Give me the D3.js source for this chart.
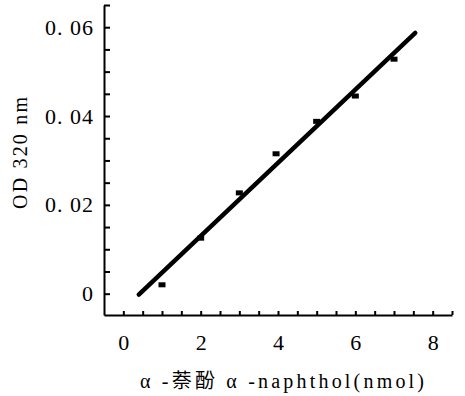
<!DOCTYPE html>
<html>
<head>
<meta charset="utf-8">
<style>
  body { margin: 0; background: #fff; }
  svg { display: block; }
  .axis path, .axis line { stroke: #000; stroke-width: 2; }
  .axis text { font-family: "Liberation Serif", "Noto Sans CJK SC", serif; font-size: 22px; fill: #000; }
  .y.axis text { letter-spacing: 1px; }
  .label { font-family: "Liberation Serif", "Noto Sans CJK SC", serif; fill: #000; }
</style>
</head>
<body>
<svg width="465" height="396"></svg>
<script src="https://cdnjs.cloudflare.com/ajax/libs/d3/7.8.5/d3.min.js"></script>
<script>
// measured points: alpha-naphthol amount (nmol) vs OD 320 nm
const amount = [1, 2, 3, 3.95, 5, 6, 7];
const od = [0.002, 0.0125, 0.0227, 0.0315, 0.0388, 0.0445, 0.0528];
// fitted line ends
const fitX = [0.4, 7.55];
const fitY = [-0.0002, 0.0587];

const xMajor = [0, 2, 4, 6, 8];
const yMajor = [0, 0.02, 0.04, 0.06];
const xTickVals = d3.range(0, 8.51, 0.5);
const yTickVals = d3.range(0, 0.0651, 0.005);

const svg = d3.select("svg");

const x = d3.scaleLinear().domain([-0.5, 8.5]).range([104, 452]);
const y = d3.scaleLinear().domain([-0.0048, 0.065]).range([315, 5]);

const isMajor = (list, v) => list.some(m => Math.abs(m - v) < 1e-9);

const xAxis = d3.axisBottom(x)
  .tickValues(xTickVals)
  .tickSizeInner(-4)
  .tickSizeOuter(0)
  .tickPadding(19)
  .tickFormat(d => isMajor(xMajor, d) ? d3.format("d")(d) : "");

const yAxis = d3.axisLeft(y)
  .tickValues(yTickVals)
  .tickSizeInner(-6)
  .tickSizeOuter(0)
  .tickPadding(10)
  .tickFormat(d => isMajor(yMajor, d) ? (d === 0 ? "0" : d3.format(".2f")(d).replace(".", ". ")) : "");

svg.append("g")
  .attr("class", "axis x")
  .attr("transform", "translate(0,315)")
  .call(xAxis);

svg.append("g")
  .attr("class", "axis y")
  .attr("transform", "translate(104,0)")
  .call(yAxis);

// fitted line
svg.append("path")
  .datum(d3.zip(fitX, fitY))
  .attr("d", d3.line().x(d => x(d[0])).y(d => y(d[1])))
  .attr("fill", "none")
  .attr("stroke", "#000")
  .attr("stroke-width", 4.5)
  .attr("stroke-linecap", "round");

// data markers
svg.append("g")
  .selectAll("rect")
  .data(d3.zip(amount, od))
  .join("rect")
  .attr("x", d => x(d[0]) - 3.5)
  .attr("y", d => y(d[1]) - 2.5)
  .attr("width", 7)
  .attr("height", 5)
  .attr("fill", "#000");

svg.append("text")
  .attr("class", "label")
  .attr("transform", "translate(27,153) rotate(-90)")
  .attr("text-anchor", "middle")
  .attr("font-size", 20)
  .attr("textLength", 112)
  .attr("lengthAdjust", "spacing")
  .text("OD 320 nm");

svg.append("text")
  .attr("class", "label")
  .attr("x", 282)
  .attr("y", 388)
  .attr("text-anchor", "middle")
  .attr("font-size", 20)
  .attr("textLength", 284)
  .attr("lengthAdjust", "spacing")
  .text("α -萘酚 α -naphthol(nmol)");
</script>
</body>
</html>
